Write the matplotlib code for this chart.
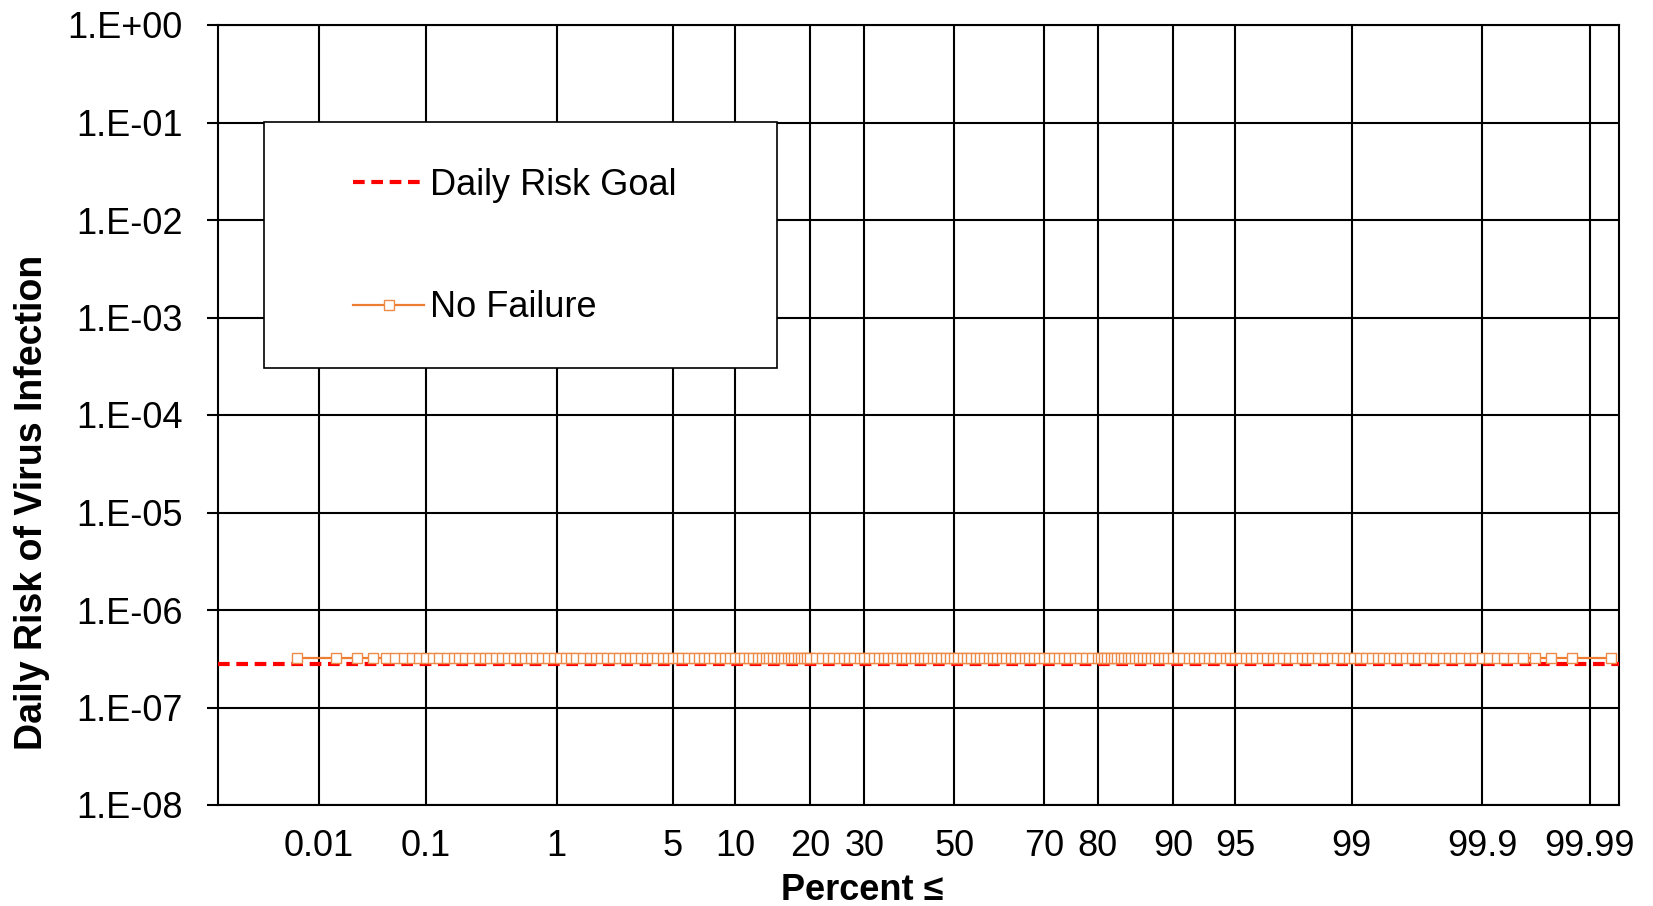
import matplotlib
matplotlib.use("Agg")
import matplotlib.pyplot as plt
from matplotlib.patches import Rectangle
from matplotlib.ticker import FixedLocator, NullLocator
from statistics import NormalDist
import numpy as np

plt.rcParams['font.family'] = ['Liberation Sans', 'DejaVu Sans']

# probability-axis gridlines / labels (percent <=)
pct_ticks = [0.01, 0.1, 1, 5, 10, 20, 30, 50, 70, 80, 90, 95, 99, 99.9, 99.99]
pct_labels = ['0.01', '0.1', '1', '5', '10', '20', '30', '50', '70', '80', '90',
              '95', '99', '99.9', '99.99']
pct_limits = (0.00082, 99.995)

risk_ticks = [1e0, 1e-1, 1e-2, 1e-3, 1e-4, 1e-5, 1e-6, 1e-7, 1e-8]
risk_labels = ['1.E+00', '1.E-01', '1.E-02', '1.E-03', '1.E-04', '1.E-05',
               '1.E-06', '1.E-07', '1.E-08']

daily_risk_goal = 2.8e-7
no_failure_risk = 3.2e-7

# plotted percent positions of the "No Failure" points
no_failure_pct = [
    0.006, 0.015, 0.024, 0.034, 0.044, 0.054, 0.064, 0.075, 0.087, 0.1,
    0.115, 0.13, 0.15, 0.17, 0.19, 0.21, 0.24, 0.27, 0.3, 0.33, 0.37, 0.41,
    0.45, 0.5, 0.55, 0.6, 0.66, 0.72, 0.8, 0.88, 0.96, 1.05, 1.15, 1.25,
    1.35, 1.5, 1.65, 1.8, 1.95, 2.1, 2.3, 2.5, 2.7, 2.9, 3.1, 3.35, 3.6,
    3.85, 4.1, 4.4, 4.7, 5.0, 5.3, 5.6, 6.0, 6.4, 6.8, 7.2, 7.6, 8.0, 8.5,
    9.0, 9.5, 10, 10.5, 11, 11.5, 12, 12.5, 13, 13.5, 14, 14.5, 15, 15.5,
    16, 16.5, 17, 17.5, 18, 18.5, 19, 19.5, 20, 21, 22, 23, 24, 25, 26, 27,
    28, 29, 30, 31, 32, 33, 34, 35, 36, 37, 38, 39, 40, 41, 42, 43, 44, 45,
    46, 47, 48, 49, 50, 51, 52, 53, 54, 55, 56, 57, 58, 59, 60, 61, 62, 63,
    64, 65, 66, 67, 68, 69, 70, 71, 72, 73, 74, 75, 76, 77, 78, 79, 80,
    80.5, 81, 81.5, 82, 82.5, 83, 83.5, 84, 84.5, 85, 85.5, 86, 86.5, 87,
    87.5, 88, 88.5, 89, 89.5, 90, 90.5, 91, 91.5, 92, 92.4, 92.8, 93.2,
    93.6, 94.0, 94.4, 94.7, 95.0, 95.3, 95.6, 95.9, 96.15, 96.4, 96.65,
    96.9, 97.1, 97.3, 97.5, 97.7, 97.9, 98.05, 98.2, 98.35, 98.5, 98.65,
    98.75, 98.85, 98.95, 99.04, 99.12, 99.2, 99.28, 99.34, 99.4, 99.45,
    99.5, 99.55, 99.59, 99.63, 99.67, 99.7, 99.73, 99.76, 99.79, 99.81,
    99.83, 99.85, 99.87, 99.885, 99.9, 99.913, 99.925, 99.936, 99.946,
    99.956, 99.966, 99.976, 99.985, 99.994,
]

_nd = NormalDist()
_inv = np.vectorize(lambda v: _nd.inv_cdf(v / 100.0), otypes=[float])
_cdf = np.vectorize(lambda v: _nd.cdf(v) * 100.0, otypes=[float])


def pct_to_z(p):
    p = np.clip(np.asarray(p, dtype=float), 1e-9, 100 - 1e-9)
    return _inv(p)


def z_to_pct(z):
    return _cdf(np.asarray(z, dtype=float))


W, H = 1653, 906
fig = plt.figure(figsize=(W / 100, H / 100), dpi=100)
ax = fig.add_axes([217.7 / W, 1 - 805 / H, 1401.3 / W, 780 / H])

ax.set_xscale('function', functions=(pct_to_z, z_to_pct))
ax.set_yscale('log')

ax.axhline(daily_risk_goal, color='#FF0000', lw=3, dashes=(2.8, 1.6),
           label='Daily Risk Goal', zorder=3)
ax.plot(no_failure_pct, np.full(len(no_failure_pct), no_failure_risk),
        color='#ED7D31', lw=1.6, marker='s', markersize=7,
        markerfacecolor='white', markeredgecolor='#EE8A48',
        markeredgewidth=1.0, label='No Failure', zorder=4)

ax.set_xlim(*pct_limits)
ax.set_ylim(1e-8, 1)

ax.xaxis.set_major_locator(FixedLocator(pct_ticks))
ax.xaxis.set_minor_locator(NullLocator())
ax.set_xticklabels(pct_labels)
ax.set_yticks(risk_ticks)
ax.set_yticklabels(risk_labels)
ax.yaxis.set_minor_locator(NullLocator())

ax.tick_params(axis='x', length=0, pad=17, labelsize=26)
ax.tick_params(axis='y', direction='out', length=8, width=1.5, pad=17,
               labelsize=26)
ax.grid(True, color='black', lw=1.5)
ax.set_axisbelow(True)
for s in ax.spines.values():
    s.set_color('black')
    s.set_linewidth(1.5)

fig.text(862 / W, 1 - 890 / H, 'Percent ≤', fontsize=26, fontweight='bold',
         ha='center', va='center')
fig.text(32 / W, 1 - 502 / H, 'Daily Risk of Virus Infection', fontsize=27,
         fontweight='bold', rotation=90, ha='center', va='center')

# legend box (fig px 263.5..777 x 122..368)
x0, x1, y0, y1 = 263.5, 777, 122, 368
ax.add_patch(Rectangle(((x0 - 217.7) / 1401.3, (805 - y1) / 780),
                       (x1 - x0) / 1401.3, (y1 - y0) / 780,
                       transform=ax.transAxes, facecolor='white',
                       edgecolor='black', lw=1.2, zorder=5, clip_on=False))
leg = ax.legend(loc='upper left',
                bbox_to_anchor=((353 - 217.7) / 1401.3, (805 - 168) / 780),
                frameon=False, fontsize=26, handlelength=1.97,
                handletextpad=0.17, labelspacing=2.42, borderpad=0,
                borderaxespad=0)
leg.set_zorder(6)

fig.savefig('out.png', dpi=100)
